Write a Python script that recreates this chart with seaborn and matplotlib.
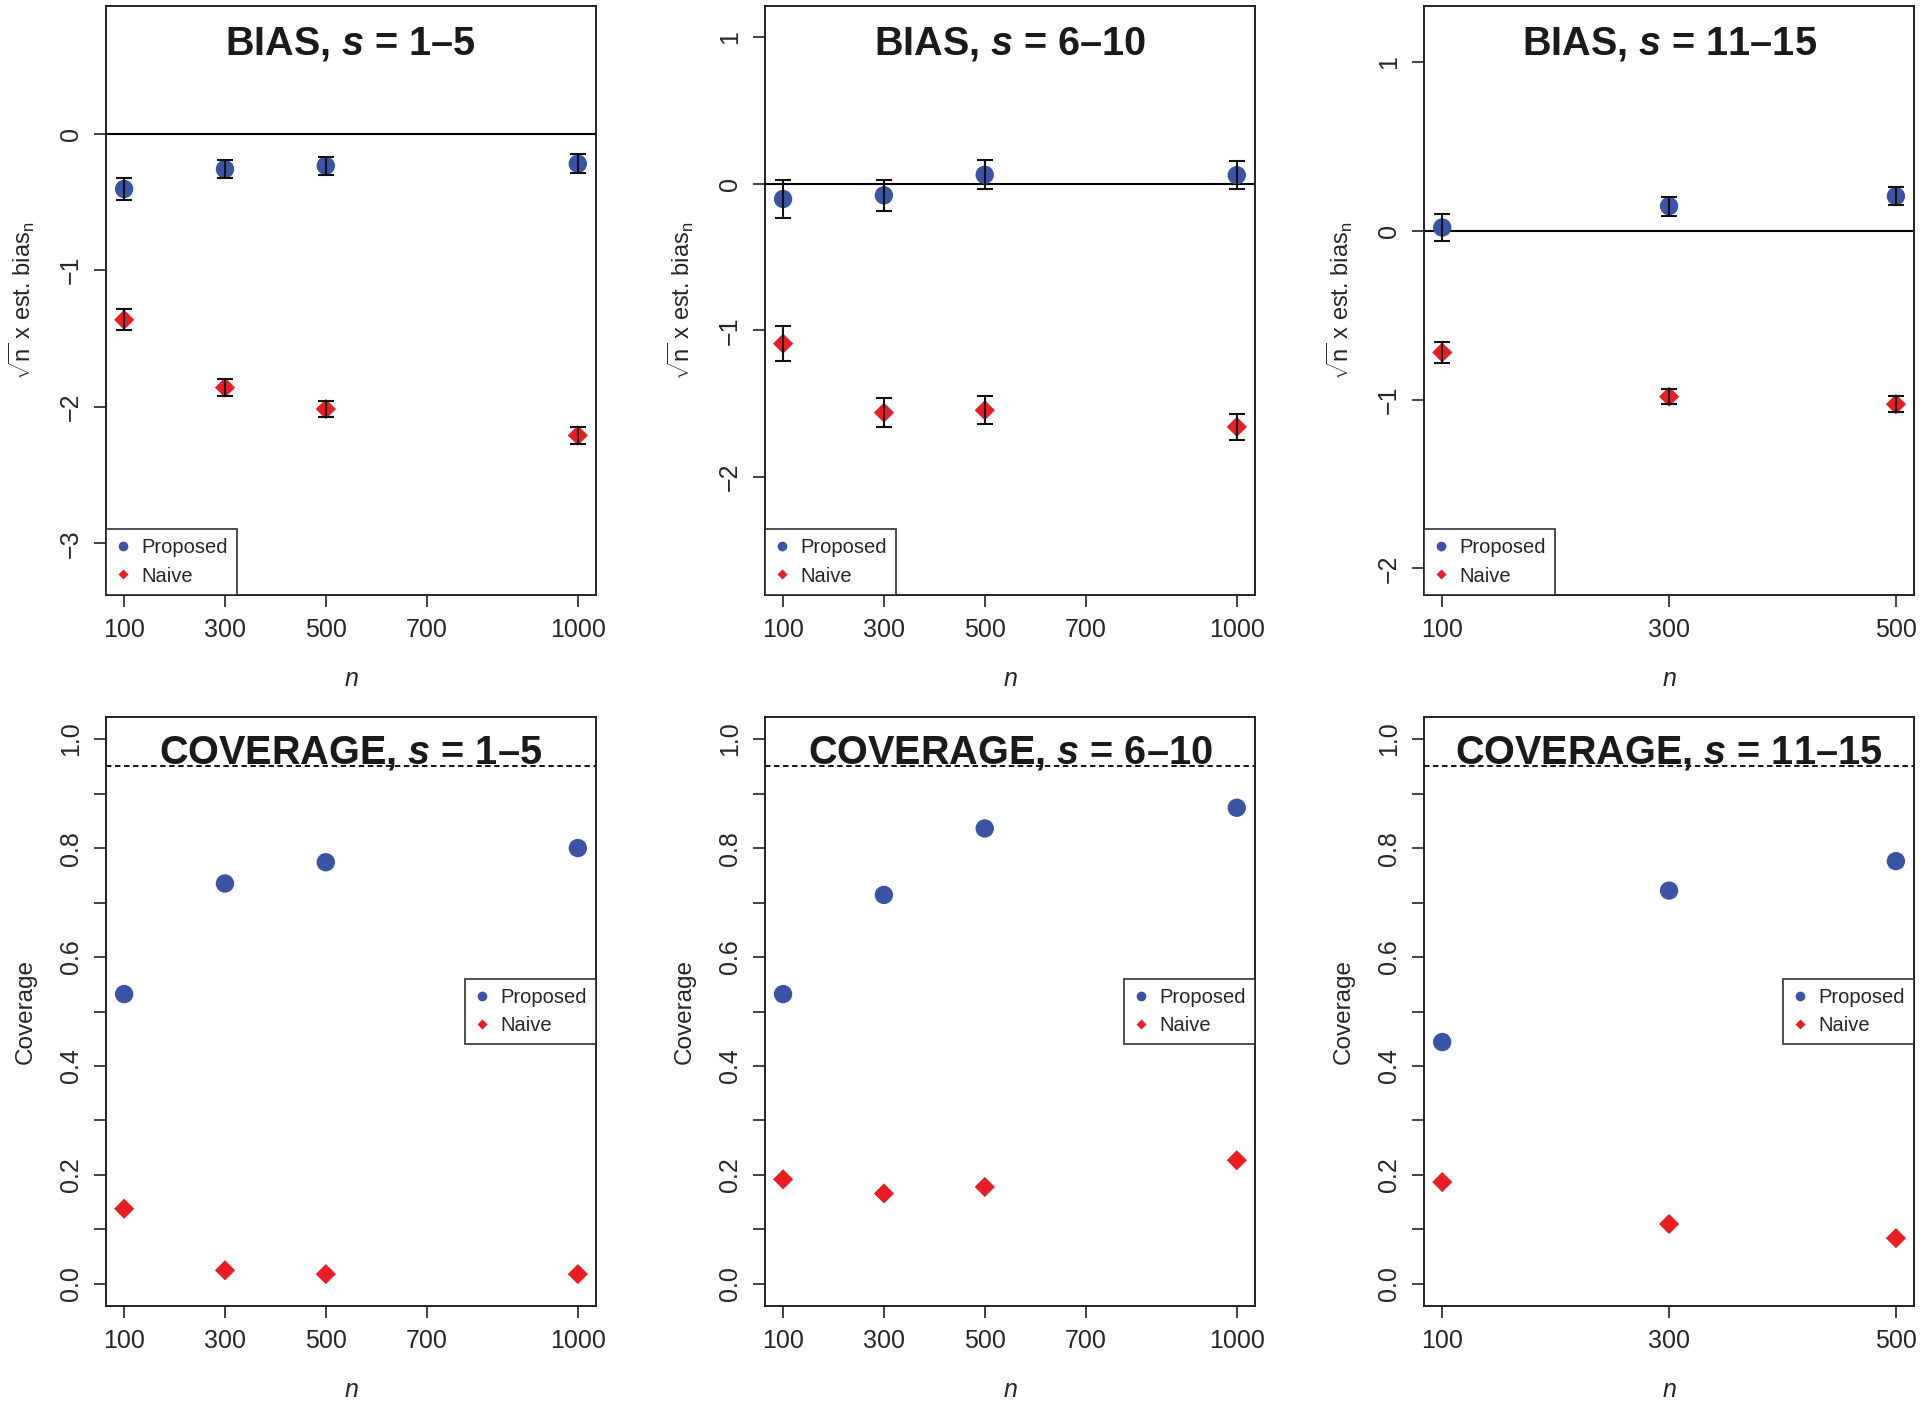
import matplotlib
matplotlib.use("Agg")
import matplotlib.pyplot as plt
from matplotlib.lines import Line2D
import seaborn as sns

# sample sizes
n_long = [100, 300, 500, 1000]
n_short = [100, 300, 500]

# sqrt(n) x estimated bias, with error bar half-widths
bias_prop_1_5 = [-0.405, -0.26, -0.235, -0.22]
bias_prop_err_1_5 = [0.08, 0.065, 0.065, 0.07]
bias_naive_1_5 = [-1.363, -1.86, -2.017, -2.21]
bias_naive_err_1_5 = [0.077, 0.06, 0.06, 0.065]

bias_prop_6_10 = [-0.104, -0.079, 0.061, 0.058]
bias_prop_err_6_10 = [0.128, 0.105, 0.10, 0.096]
bias_naive_6_10 = [-1.09, -1.56, -1.544, -1.657]
bias_naive_err_6_10 = [0.119, 0.10, 0.094, 0.088]

bias_prop_11_15 = [0.021, 0.148, 0.207]
bias_prop_err_11_15 = [0.082, 0.057, 0.052]
bias_naive_11_15 = [-0.72, -0.982, -1.027]
bias_naive_err_11_15 = [0.065, 0.045, 0.048]

# coverage
cov_prop_1_5 = [0.532, 0.735, 0.774, 0.800]
cov_naive_1_5 = [0.138, 0.025, 0.018, 0.018]
cov_prop_6_10 = [0.532, 0.714, 0.836, 0.874]
cov_naive_6_10 = [0.192, 0.166, 0.178, 0.227]
cov_prop_11_15 = [0.444, 0.722, 0.776]
cov_naive_11_15 = [0.187, 0.110, 0.084]

groups = ["1\u20135", "6\u201310", "11\u201315"]

BLUE = "#3A53A4"
RED = "#EA1C24"
FONT = "Liberation Sans"

sns.set_style("ticks")
plt.rcParams["font.family"] = [FONT, "DejaVu Sans"]
plt.rcParams["mathtext.fontset"] = "custom"
plt.rcParams["mathtext.rm"] = FONT
plt.rcParams["mathtext.it"] = FONT + ":italic"
plt.rcParams["mathtext.bf"] = FONT + ":bold"
plt.rcParams["mathtext.bfit"] = FONT + ":italic:bold"

fig = plt.figure(figsize=(19.2, 14.01), dpi=100)

lefts = [0.0552, 0.3984, 0.7417]
W, H = 0.2552, 0.420
bottoms = [0.5756, 0.068]


def style_axes(ax, xticks, xlim, ylim, yticks, yticklabels):
    ax.set_xlim(*xlim)
    ax.set_ylim(*ylim)
    ax.set_xticks(xticks)
    ax.set_xticklabels([str(t) for t in xticks])
    ax.set_yticks(yticks)
    ax.set_yticklabels(yticklabels, rotation=90, va="center")
    ax.tick_params(axis="both", length=8.5, width=1.2, pad=8, labelsize=18, color="#222222")
    for sp in ax.spines.values():
        sp.set_visible(True)
        sp.set_linewidth(1.4)
        sp.set_color("#222222")
    ax.set_xlabel("$\\mathit{n}$", fontsize=18, labelpad=18)


def add_legend(ax, loc):
    handles = [
        Line2D([], [], ls="none", marker="o", ms=7, color=BLUE, mec="none"),
        Line2D([], [], ls="none", marker="D", ms=5.5, color=RED, mec="none"),
    ]
    leg = ax.legend(handles, ["Proposed", "Naive"], loc=loc, fontsize=14.5,
                    frameon=True, fancybox=False, borderaxespad=0,
                    handlelength=0.8, handletextpad=0.5, borderpad=0.45,
                    labelspacing=0.45)
    leg.get_frame().set_edgecolor("#222222")
    leg.get_frame().set_linewidth(1.4)


bias_sets = [
    (n_long, bias_prop_1_5, bias_prop_err_1_5, bias_naive_1_5, bias_naive_err_1_5,
     (-3.376, 0.934), [-3, -2, -1, 0]),
    (n_long, bias_prop_6_10, bias_prop_err_6_10, bias_naive_6_10, bias_naive_err_6_10,
     (-2.80, 1.21), [-2, -1, 0, 1]),
    (n_short, bias_prop_11_15, bias_prop_err_11_15, bias_naive_11_15, bias_naive_err_11_15,
     (-2.156, 1.334), [-2, -1, 0, 1]),
]

cov_sets = [
    (n_long, cov_prop_1_5, cov_naive_1_5),
    (n_long, cov_prop_6_10, cov_naive_6_10),
    (n_short, cov_prop_11_15, cov_naive_11_15),
]

for i, (ns, prop, prop_err, naive, naive_err, ylim, yt) in enumerate(bias_sets):
    ax = fig.add_axes([lefts[i], bottoms[0], W, H])
    pad = 0.04 * (ns[-1] - ns[0])
    ax.axhline(0, color="black", lw=1.5, zorder=1)
    sns.scatterplot(x=ns, y=prop, ax=ax, color=BLUE, marker="o", s=175,
                    edgecolor="none", zorder=3, legend=False)
    sns.scatterplot(x=ns, y=naive, ax=ax, color=RED, marker="D", s=105,
                    edgecolor="none", zorder=3, legend=False)
    ax.errorbar(ns, prop, yerr=prop_err, fmt="none", ecolor="#111111",
                elinewidth=1.5, capsize=5.5, capthick=1.5, zorder=4)
    ax.errorbar(ns, naive, yerr=naive_err, fmt="none", ecolor="#111111",
                elinewidth=1.5, capsize=5.5, capthick=1.5, zorder=4)
    ticks = [100, 300, 500, 700, 1000] if ns[-1] == 1000 else [100, 300, 500]
    style_axes(ax, ticks, (ns[0] - pad, ns[-1] + pad), ylim, yt,
               [str(v).replace("-", "\u2212") for v in yt])
    ax.set_ylabel("$\\sqrt{\\mathrm{n}}$ x est. bias$_\\mathrm{n}$", fontsize=17, labelpad=16)
    ax.text(0.5, 0.936, "BIAS, $\\mathbfit{s}$ = " + groups[i], transform=ax.transAxes,
            ha="center", va="center", fontsize=28.5, fontweight="bold", color="#1a1a1a")
    add_legend(ax, "lower left")

cov_ticks = [round(0.1 * k, 1) for k in range(11)]
cov_labels = [f"{v:.1f}" if k % 2 == 0 else "" for k, v in enumerate(cov_ticks)]

for i, (ns, prop, naive) in enumerate(cov_sets):
    ax = fig.add_axes([lefts[i], bottoms[1], W, H])
    pad = 0.04 * (ns[-1] - ns[0])
    ax.axhline(0.95, color="black", lw=1.3, ls=(0, (3, 2)), zorder=1)
    sns.scatterplot(x=ns, y=prop, ax=ax, color=BLUE, marker="o", s=175,
                    edgecolor="none", zorder=3, legend=False)
    sns.scatterplot(x=ns, y=naive, ax=ax, color=RED, marker="D", s=105,
                    edgecolor="none", zorder=3, legend=False)
    ticks = [100, 300, 500, 700, 1000] if ns[-1] == 1000 else [100, 300, 500]
    style_axes(ax, ticks, (ns[0] - pad, ns[-1] + pad), (-0.04, 1.04), cov_ticks, cov_labels)
    ax.set_ylabel("Coverage", fontsize=17.5, labelpad=16)
    ax.text(0.5, 0.939, "COVERAGE, $\\mathbfit{s}$ = " + groups[i], transform=ax.transAxes,
            ha="center", va="center", fontsize=28.5, fontweight="bold", color="#1a1a1a")
    add_legend(ax, "center right")

fig.savefig("out.png", dpi=100)
